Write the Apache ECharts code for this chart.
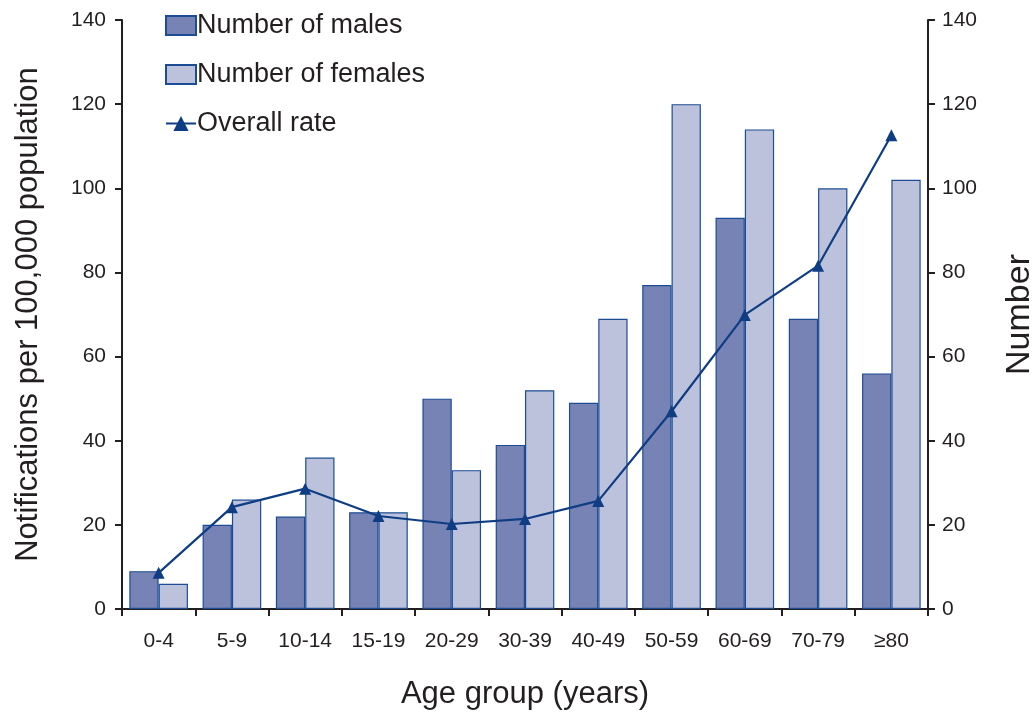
<!DOCTYPE html>
<html>
<head>
<meta charset="utf-8">
<script src="https://cdn.jsdelivr.net/npm/echarts@6/dist/echarts.min.js"></script>
<style>html,body{margin:0;padding:0;background:#fff}#c{width:1036px;height:717px}</style>
</head>
<body>
<div id="c"></div>
<script>
var categories = ['0-4','5-9','10-14','15-19','20-29','30-39','40-49','50-59','60-69','70-79','≥80'];
var males = [9,20,22,23,50,39,49,77,93,69,56];
var females = [6,26,36,23,33,52,69,120,114,100,102];
var overallRate = [8.6,24.2,28.6,22.1,20.2,21.4,25.7,47,69.9,81.6,112.6];
var yTicks = {min:0, max:140, interval:20};

var chart = echarts.init(document.getElementById('c'));
var font = 'Liberation Sans, Arial, sans-serif';
var axisColor = '#231f20';
chart.setOption({
  animation:false,
  textStyle:{fontFamily:font},
  legend:{
    orient:'vertical', left:160, top:7, itemGap:22, itemWidth:30, itemHeight:19,
    textStyle:{fontSize:27, color:'#231f20', fontFamily:font, padding:[0,0,0,-4]},
    data:[
      {name:'Number of males', icon:'rect'},
      {name:'Number of females', icon:'rect'},
      {name:'Overall rate'}
    ]
  },
  grid:{left:122, right:108, top:20, bottom:108, containLabel:false, outerBoundsMode:'none'},
  xAxis:{
    type:'category', data:categories,
    name:'Age group (years)', nameLocation:'middle', nameGap:70,
    nameTextStyle:{fontSize:31, color:'#231f20', fontFamily:font},
    axisLine:{lineStyle:{color:axisColor, width:2}},
    axisTick:{show:true, length:7, lineStyle:{color:axisColor, width:2}},
    axisLabel:{fontSize:21, color:'#231f20', margin:22, fontFamily:font}
  },
  yAxis:[
    {type:'value', min:yTicks.min, max:yTicks.max, interval:yTicks.interval, position:'left',
     name:'Notifications per 100,000 population', nameLocation:'middle', nameGap:78,
     nameTextStyle:{fontSize:31, color:'#231f20', fontFamily:font},
     axisLine:{show:true, lineStyle:{color:axisColor, width:2}},
     axisTick:{show:true, length:7, lineStyle:{color:axisColor, width:2}},
     axisLabel:{fontSize:21, color:'#231f20', margin:16, fontFamily:font},
     splitLine:{show:false}},
    {type:'value', min:yTicks.min, max:yTicks.max, interval:yTicks.interval, position:'right',
     name:'Number', nameLocation:'middle', nameGap:75, nameRotate:90,
     nameTextStyle:{fontSize:34, color:'#231f20', fontFamily:font},
     axisLine:{show:true, lineStyle:{color:axisColor, width:2}},
     axisTick:{show:true, length:7, lineStyle:{color:axisColor, width:2}},
     axisLabel:{fontSize:21, color:'#231f20', margin:14, fontFamily:font},
     splitLine:{show:false}}
  ],
  series:[
    {name:'Number of males', type:'bar', yAxisIndex:1, data:males, barGap:'0%', barCategoryGap:'20%',
     itemStyle:{color:'#7683b4', borderColor:'#1c4d94', borderWidth:1.2}},
    {name:'Number of females', type:'bar', yAxisIndex:1, data:females, barGap:'0%', barCategoryGap:'20%',
     itemStyle:{color:'#bcc2dc', borderColor:'#1c4d94', borderWidth:1.2}},
    {name:'Overall rate', type:'line', yAxisIndex:0, data:overallRate,
     symbol:'triangle', symbolSize:12, lineStyle:{color:'#0e3d84', width:2.2},
     itemStyle:{color:'#0e3d84'}}
  ]
});
</script>
</body>
</html>
